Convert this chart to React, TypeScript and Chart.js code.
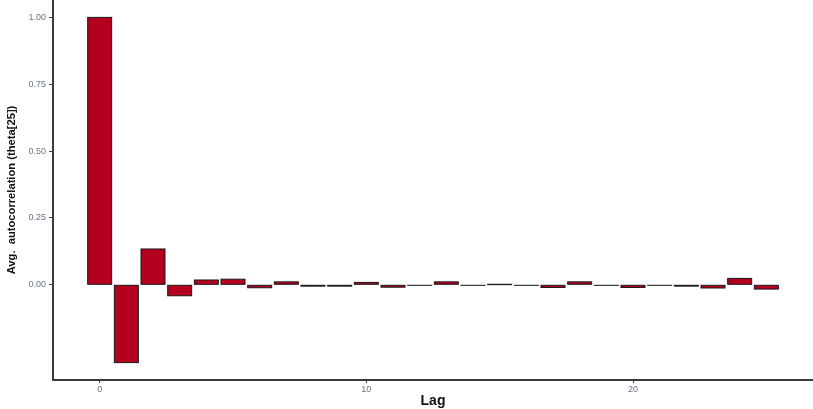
import React, { useEffect, useRef } from "react";
import { Chart, registerables } from "chart.js";

Chart.register(...registerables);

const lags = [0, 1, 2, 3, 4, 5, 6, 7, 8, 9, 10, 11, 12, 13, 14, 15, 16, 17, 18, 19, 20, 21, 22, 23, 24, 25];
const acf = [1.0, -0.291, 0.134, -0.041, 0.018, 0.021, -0.011, 0.011, -0.005, -0.005, 0.009, -0.009, -0.002, 0.011, -0.002, 0.0005, -0.002, -0.010, 0.011, -0.002, -0.010, -0.002, -0.005, -0.012, 0.024, -0.016];
const xTicks = [0, 10, 20];
const yTicks = [0, 0.25, 0.5, 0.75, 1.0];
const xTitle = "Lag";
const yTitle = "Avg.  autocorrelation (theta[25])";

export default function App() {
  const ref = useRef<HTMLCanvasElement>(null);
  useEffect(() => {
    if (!ref.current) return;
    const outlines = {
      id: "outlines",
      afterDatasetsDraw(chart: any) {
        const ctx = chart.ctx;
        const meta = chart.getDatasetMeta(0);
        ctx.save();
        ctx.strokeStyle = "#1a1a1a";
        ctx.lineWidth = 1;
        meta.data.forEach((bar: any) => {
          const left = bar.x - bar.width / 2;
          const top = Math.min(bar.y, bar.base);
          const h = Math.abs(bar.y - bar.base);
          ctx.strokeRect(left, top, bar.width, h);
        });
        ctx.restore();
      },
    };
    const titles = {
      id: "titles",
      afterDraw(chart: any) {
        const ctx = chart.ctx;
        const a = chart.chartArea;
        ctx.save();
        ctx.fillStyle = "#111";
        ctx.font = "bold 14px 'Liberation Sans', Arial, sans-serif";
        ctx.textAlign = "center";
        ctx.textBaseline = "alphabetic";
        ctx.fillText(xTitle, (a.left + a.right) / 2, 405);
        ctx.translate(15, (a.top + a.bottom) / 2);
        ctx.rotate(-Math.PI / 2);
        ctx.font = "bold 11.2px 'Liberation Sans Narrow', 'Liberation Sans', Arial, sans-serif";
        ctx.textBaseline = "alphabetic";
        ctx.fillText(yTitle, 0, 0);
        ctx.restore();
      },
    };
    const chart = new Chart(ref.current, {
      type: "bar",
      data: {
        datasets: [
          {
            data: lags.map((l, i) => ({ x: l, y: acf[i] })),
            backgroundColor: "#B3001F",
            borderWidth: 0,
            inflateAmount: 0,
            barPercentage: 0.9,
            categoryPercentage: 1,
          },
        ],
      },
      options: {
        animation: false,
        responsive: false,
        layout: { padding: 0 },
        plugins: { legend: { display: false }, tooltip: { enabled: false } },
        scales: {
          x: {
            type: "linear",
            offset: false,
            min: -1.75,
            max: 26.75,
            afterBuildTicks: (s: any) => {
              s.ticks = xTicks.map((v) => ({ value: v }));
            },
            afterFit: (s: any) => {
              s.height = 29;
              s.paddingLeft = 0;
              s.paddingRight = 0;
            },
            ticks: {
              autoSkip: false,
              maxRotation: 0,
              padding: 1,
              color: "#6a7482",
              font: { size: 9, family: "'Liberation Sans', Arial, sans-serif" },
            },
            grid: { offset: false, drawOnChartArea: false, drawTicks: true, tickLength: 3, color: "#444" },
            border: { display: true, color: "#3a3a3a", width: 2 },
          },
          y: {
            type: "linear",
            min: -0.356,
            max: 1.065,
            afterBuildTicks: (s: any) => {
              s.ticks = yTicks.map((v) => ({ value: v }));
            },
            afterFit: (s: any) => {
              s.width = 53;
              s.paddingTop = 0;
              s.paddingBottom = 0;
            },
            ticks: {
              padding: 3,
              color: "#6a7482",
              font: { size: 9, family: "'Liberation Sans', Arial, sans-serif" },
              callback: (v: any) => Number(v).toFixed(2),
            },
            grid: { drawOnChartArea: false, drawTicks: true, tickLength: 4, color: "#444" },
            border: { display: true, color: "#3a3a3a", width: 2 },
          },
        },
      },
      plugins: [outlines, titles],
    } as any);
    return () => chart.destroy();
  }, []);
  return (
    <div style={{ position: "fixed", left: 0, top: 0, width: 813, height: 409, background: "#fff" }}>
      <canvas ref={ref} width={813} height={409} />
    </div>
  );
}
